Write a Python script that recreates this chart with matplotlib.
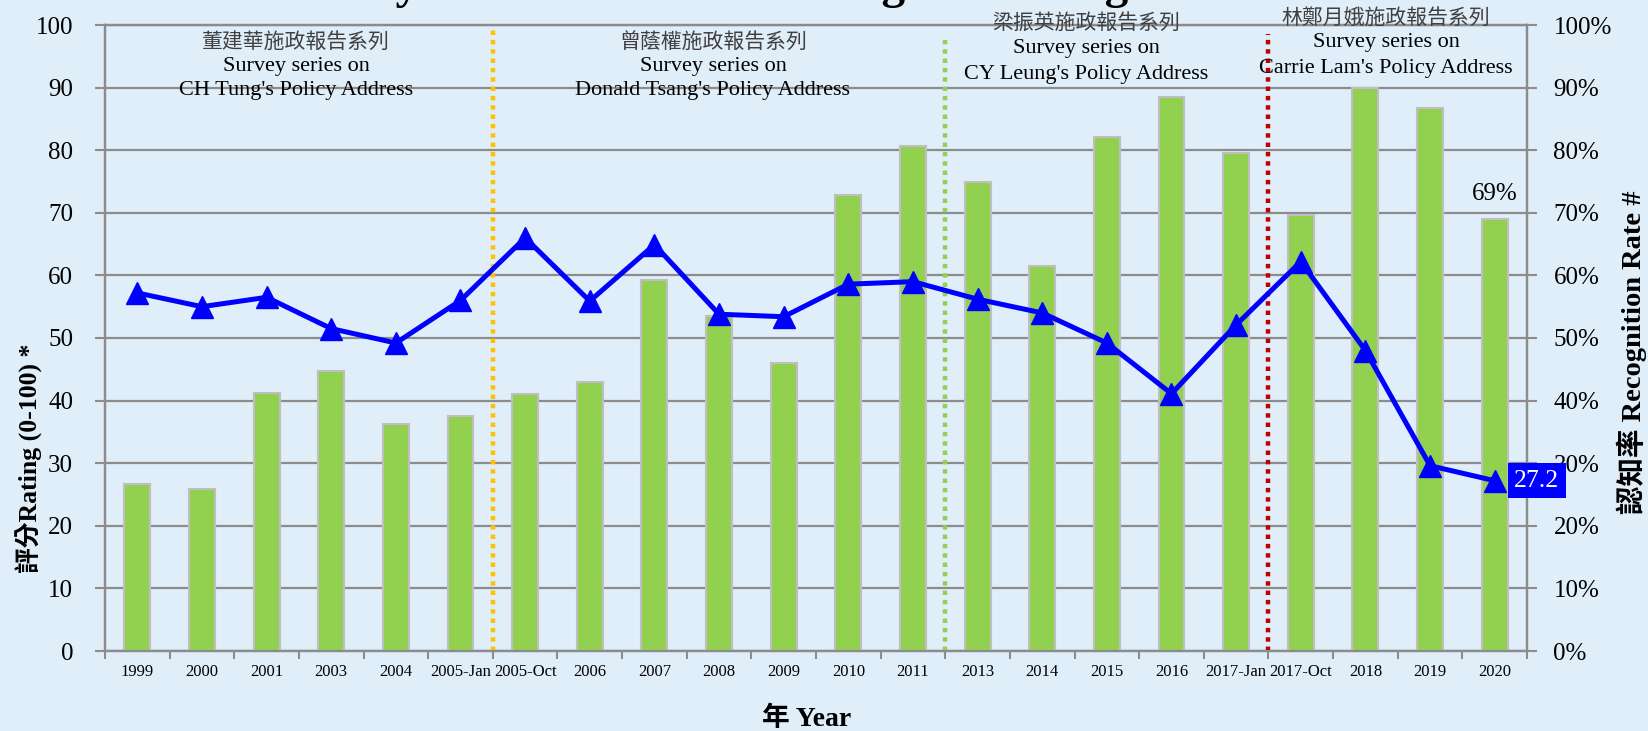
import matplotlib
matplotlib.use('Agg')
import matplotlib.pyplot as plt
import numpy as np
from matplotlib.ticker import FuncFormatter

plt.rcParams['font.family'] = ['Liberation Serif', 'Noto Sans CJK TC']

# data
years = ['1999', '2000', '2001', '2003', '2004', '2005-Jan', '2005-Oct', '2006', '2007',
         '2008', '2009', '2010', '2011', '2013', '2014', '2015', '2016', '2017-Jan',
         '2017-Oct', '2018', '2019', '2020']
recog_rate = [26.6, 25.8, 41.2, 44.8, 36.2, 37.6, 41.1, 43.0, 59.3, 53.5, 46.0, 72.9,
              80.7, 75.0, 61.5, 82.1, 88.5, 79.5, 69.6, 89.9, 86.8, 69.0]
rating = [57.2, 55.0, 56.5, 51.5, 49.2, 56.0, 66.0, 55.9, 64.9, 53.8, 53.4, 58.6,
          59.0, 56.2, 54.0, 49.2, 41.1, 52.1, 62.2, 48.0, 29.6, 27.2]
# boundaries between chief executives' series
sep_pos = [5.5, 12.5, 17.5]
sep_colors = ['#FFC000', '#92D050', '#C00000']
sep_top = [100, 98.3, 98.5]
series_zh = ['董建華施政報告系列', '曾蔭權施政報告系列', '梁振英施政報告系列', '林鄭月娥施政報告系列']
series_en = ["CH Tung's Policy Address", "Donald Tsang's Policy Address",
             "CY Leung's Policy Address", "Carrie Lam's Policy Address"]

bg = '#E0EEFA'
grey = '#8C8C8C'
W, H = 1649, 731

fig = plt.figure(figsize=(W / 100, H / 100), dpi=100, facecolor=bg)
ax = fig.add_axes([105 / W, 80 / H, 1422 / W, 626 / H])
ax2 = ax.twinx()
ax.set_zorder(ax2.get_zorder() + 1)
ax.patch.set_visible(False)
ax2.patch.set_facecolor(bg)

x = np.arange(len(years))

# bars - recognition rate (right axis)
ax2.bar(x, recog_rate, width=0.4, color='#92D050', edgecolor='#BFBFBF', linewidth=1.5, zorder=3)
ax2.set_ylim(0, 100)
ax2.set_yticks(np.arange(0, 101, 10))
ax2.yaxis.set_major_formatter(FuncFormatter(lambda v, p: f'{int(v)}%'))
ax2.grid(axis='y', color=grey, linewidth=1.6)
ax2.set_axisbelow(True)

for pos, c, top in zip(sep_pos, sep_colors, sep_top):
    ax2.plot([pos, pos], [0, top], color=c, linewidth=3.2, linestyle=(0, (1, 1.1)),
             solid_capstyle='butt', dash_capstyle='butt', zorder=4)

# line - rating (left axis)
ax.plot(x, rating, color='#0000FF', linewidth=3.6, marker='^', markersize=16, zorder=5)
ax.set_ylim(0, 100)
ax.set_yticks(np.arange(0, 101, 10))
ax.set_xlim(-0.5, len(years) - 0.5)

# x ticks at boundaries, labels at centres
ax.set_xticks(np.arange(-0.5, len(years), 1))
ax.set_xticklabels([])
ax.set_xticks(x, minor=True)
ax.set_xticklabels(years, minor=True, fontsize=12)
ax.tick_params(axis='x', which='major', length=6, width=1.5, color=grey)
ax.tick_params(axis='x', which='minor', length=0, pad=9)
ax.tick_params(axis='y', length=7, width=1.5, color=grey, labelsize=18, pad=16)
ax2.tick_params(axis='y', length=7, width=1.5, color=grey, labelsize=18, pad=12)

for a in (ax, ax2):
    for s in a.spines.values():
        s.set_color(grey)
        s.set_linewidth(1.6)

ax2.annotate('69%', (x[-1], recog_rate[-1]), xytext=(0, 10), textcoords='offset points',
             ha='center', va='bottom', fontsize=18)
ax.annotate(f'{rating[-1]}', (x[-1], rating[-1]), xytext=(14, 0), textcoords='offset points',
            ha='left', va='center', fontsize=18.5, color='white',
            bbox=dict(boxstyle='square,pad=0.25', fc='#0000FF', ec='none'), zorder=6)

# series annotations (pixel positions from top-left)
ann_x = [296, 713, 1086, 1386]
ann_y = [(42, 66, 91), (42, 66, 91), (23, 49, 74), (18, 42, 68)]
for zh, en, px, (y1, y2, y3) in zip(series_zh, series_en, ann_x, ann_y):
    fig.text(px / W, 1 - y1 / H, zh, ha='center', va='center', fontsize=15, color='#404040',
             family=['Noto Sans CJK TC'])
    fig.text(px / W, 1 - y2 / H, 'Survey series on', ha='center', va='center', fontsize=16)
    fig.text(px / W, 1 - y3 / H, en, ha='center', va='center', fontsize=16)

# axis titles
fig.text(29 / W, 1 - 458 / H, '評分Rating (0-100) *', rotation=90, ha='center', va='center',
         fontsize=18.5, fontweight='bold')
fig.text(1632 / W, 1 - 352 / H, '認知率 Recognition Rate #', rotation=90, ha='center', va='center',
         fontsize=20.5, fontweight='bold')
fig.text(807 / W, 1 - 719 / H, '年 Year', ha='center', va='center', fontsize=20, fontweight='bold')

# chart title, mostly cut off above the top edge (as in the source picture)
fig.text(0.5, 1 + 2 / H, 'Policy Address Overall Rating and Recognition Rate', ha='center',
         va='baseline', fontsize=34, fontweight='bold')

fig.savefig('out.png', dpi=100, facecolor=bg)
